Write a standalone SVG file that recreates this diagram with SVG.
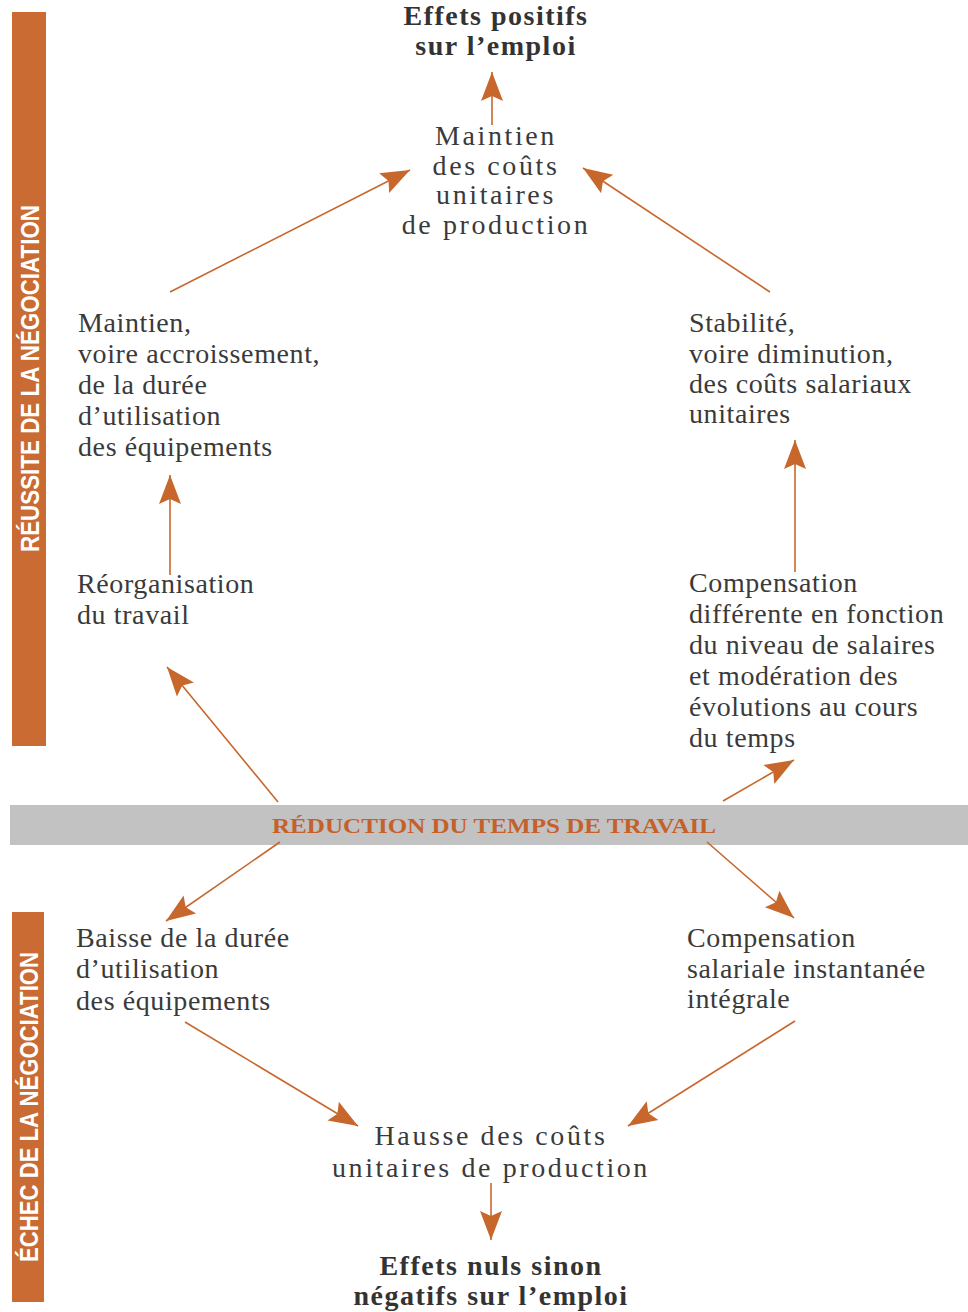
<svg xmlns="http://www.w3.org/2000/svg" width="968" height="1312" viewBox="0 0 968 1312">
<defs>
<style>
.t{font-family:"Liberation Serif","Times New Roman",serif;font-size:28px;fill:#3a3a3a;letter-spacing:0.6px}
.c{font-family:"Liberation Serif","Times New Roman",serif;font-size:28px;fill:#3a3a3a;letter-spacing:2.6px;text-anchor:middle}
.b{font-family:"Liberation Serif","Times New Roman",serif;font-size:28px;font-weight:bold;fill:#333;letter-spacing:1.5px;text-anchor:middle}
.side{font-family:"Liberation Sans",Arial,sans-serif;font-size:26px;font-weight:bold;fill:#fff}
.band{font-family:"Liberation Serif","Times New Roman",serif;font-size:22px;font-weight:bold;fill:#C4612A}
.bar{fill:#C96B32}
.arr{stroke:#C8672C;stroke-width:1.6;fill:none;marker-end:url(#ah)}
</style>
<marker id="ah" markerUnits="userSpaceOnUse" markerWidth="32" markerHeight="24" refX="29" refY="11" orient="auto" overflow="visible">
<path d="M0,0 L29,11 L0,22 L5,11 Z" fill="#C8672C"/>
</marker>
</defs>
<rect width="968" height="1312" fill="#fff"/>

<g id="bar-reussite">
<rect class="bar" x="12" y="12" width="34" height="734"/>
<text class="side" transform="translate(39,552) rotate(-90)" textLength="347" lengthAdjust="spacingAndGlyphs">RÉUSSITE DE LA NÉGOCIATION</text>
</g>
<g id="bar-echec">
<rect class="bar" x="12" y="912" width="32" height="390"/>
<text class="side" transform="translate(38,1262) rotate(-90)" textLength="310" lengthAdjust="spacingAndGlyphs">ÉCHEC DE LA NÉGOCIATION</text>
</g>
<g id="band">
<rect x="10" y="805" width="958" height="40" fill="#C2C2C2"/>
<text class="band" x="272" y="833" textLength="444" lengthAdjust="spacingAndGlyphs">RÉDUCTION DU TEMPS DE TRAVAIL</text>
</g>

<g id="connectors">
<line class="arr" x1="492" y1="125" x2="492" y2="72"/>
<line class="arr" x1="170" y1="292" x2="410" y2="170"/>
<line class="arr" x1="770" y1="292" x2="583" y2="168"/>
<line class="arr" x1="795" y1="572" x2="795" y2="440"/>
<line class="arr" x1="170" y1="575" x2="170" y2="475"/>
<line class="arr" x1="278" y1="802" x2="167" y2="667"/>
<line class="arr" x1="723" y1="801" x2="794" y2="760"/>
<line class="arr" x1="280" y1="842" x2="166" y2="921"/>
<line class="arr" x1="707" y1="842" x2="794" y2="918"/>
<line class="arr" x1="185" y1="1022" x2="358" y2="1126"/>
<line class="arr" x1="795" y1="1021" x2="628" y2="1126"/>
<line class="arr" x1="491" y1="1183" x2="491" y2="1240"/>
</g>

<g id="n-effets-positifs">
<text class="b" x="496" y="25">Effets positifs</text>
<text class="b" x="496" y="55">sur l’emploi</text>
</g>
<g id="n-maintien-couts">
<text class="c" x="496" y="145">Maintien</text>
<text class="c" x="496" y="175">des coûts</text>
<text class="c" x="496" y="204">unitaires</text>
<text class="c" x="496" y="234">de production</text>
</g>
<g id="n-maintien-duree">
<text class="t" x="78" y="332">Maintien,</text>
<text class="t" x="78" y="363">voire accroissement,</text>
<text class="t" x="78" y="394">de la durée</text>
<text class="t" x="78" y="425">d’utilisation</text>
<text class="t" x="78" y="456">des équipements</text>
</g>
<g id="n-stabilite">
<text class="t" x="689" y="332">Stabilité,</text>
<text class="t" x="689" y="363">voire diminution,</text>
<text class="t" x="689" y="393">des coûts salariaux</text>
<text class="t" x="689" y="423">unitaires</text>
</g>
<g id="n-reorganisation">
<text class="t" x="77" y="593">Réorganisation</text>
<text class="t" x="77" y="624">du travail</text>
</g>
<g id="n-compensation-diff">
<text class="t" x="689" y="592">Compensation</text>
<text class="t" x="689" y="623">différente en fonction</text>
<text class="t" x="689" y="654">du niveau de salaires</text>
<text class="t" x="689" y="685">et modération des</text>
<text class="t" x="689" y="716">évolutions au cours</text>
<text class="t" x="689" y="747">du temps</text>
</g>
<g id="n-baisse">
<text class="t" x="76" y="947">Baisse de la durée</text>
<text class="t" x="76" y="978">d’utilisation</text>
<text class="t" x="76" y="1010">des équipements</text>
</g>
<g id="n-compensation-integrale">
<text class="t" x="687" y="947">Compensation</text>
<text class="t" x="687" y="978">salariale instantanée</text>
<text class="t" x="687" y="1008">intégrale</text>
</g>
<g id="n-hausse">
<text class="c" x="491" y="1145">Hausse des coûts</text>
<text class="c" x="491" y="1177">unitaires de production</text>
</g>
<g id="n-effets-nuls">
<text class="b" x="491" y="1275">Effets nuls sinon</text>
<text class="b" x="491" y="1305">négatifs sur l’emploi</text>
</g>
</svg>
